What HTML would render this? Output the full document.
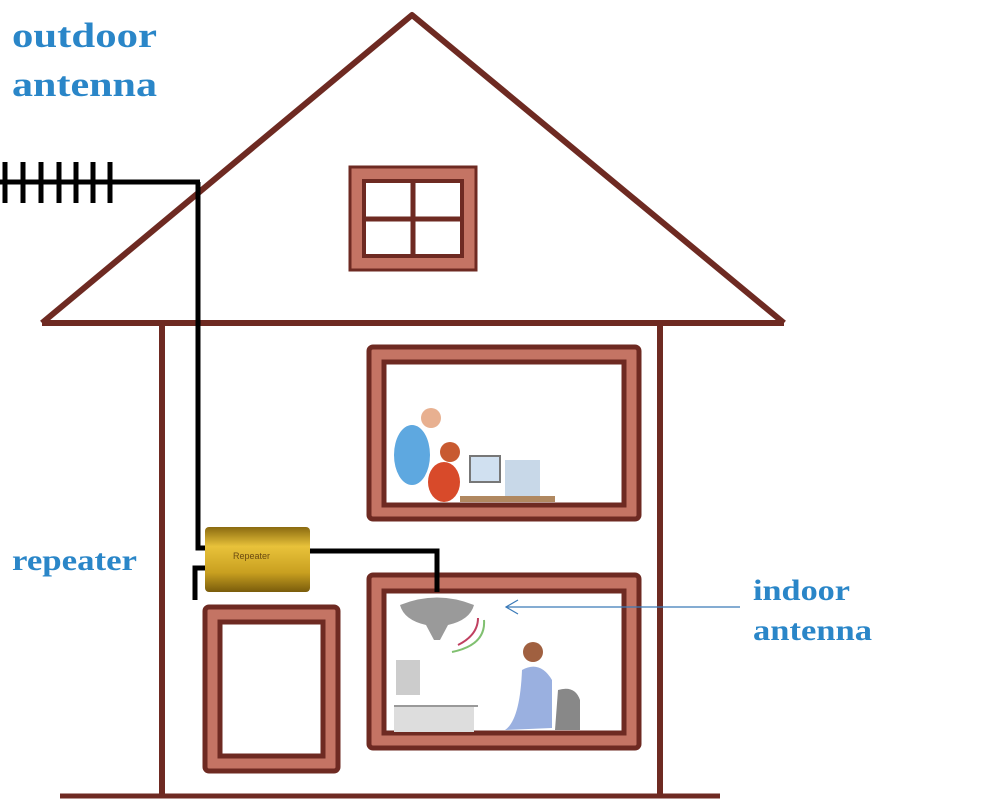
<!DOCTYPE html>
<html><head><style>body{margin:0;background:#fff}svg{display:block}text{font-family:"Liberation Serif",serif;font-weight:bold;fill:#2a86c8}</style></head>
<body>
<svg width="993" height="800" viewBox="0 0 993 800">
<defs>
<linearGradient id="g" x1="0" y1="0" x2="0" y2="1"><stop offset="0" stop-color="#8a6a10"/><stop offset="0.3" stop-color="#e8c23a"/><stop offset="0.7" stop-color="#c9a020"/><stop offset="1" stop-color="#7a5c0c"/></linearGradient>
</defs>
<g stroke="#6e2a22" stroke-width="6" fill="none" stroke-linejoin="round">
<polyline points="42,323 412,15 784,323"/>
<line x1="42" y1="323" x2="784" y2="323"/>
<line x1="162" y1="323" x2="162" y2="795"/>
<line x1="660" y1="323" x2="660" y2="795"/>
</g>
<line x1="60" y1="796" x2="720" y2="796" stroke="#6e2a22" stroke-width="5"/>
<rect x="350" y="167" width="126" height="103" fill="#c47464" stroke="#6e2a22" stroke-width="3"/>
<rect x="364" y="181" width="98" height="75" fill="#fff" stroke="#6e2a22" stroke-width="4"/>
<line x1="413" y1="181" x2="413" y2="256" stroke="#6e2a22" stroke-width="5"/>
<line x1="364" y1="219" x2="462" y2="219" stroke="#6e2a22" stroke-width="5"/>
<g fill="#c47464" stroke="#6e2a22" stroke-width="5">
<rect x="369" y="347" width="270" height="172" rx="4"/>
<rect x="369" y="575" width="270" height="173" rx="4"/>
<rect x="205" y="607" width="133" height="164" rx="4"/>
</g>
<g fill="#fff" stroke="#6e2a22" stroke-width="5">
<rect x="384" y="362" width="240" height="143"/>
<rect x="384" y="591" width="240" height="142"/>
<rect x="220" y="622" width="103" height="134"/>
</g>
<ellipse cx="412" cy="455" rx="18" ry="30" fill="#5ea8e0"/>
<circle cx="431" cy="418" r="10" fill="#e8b090"/>
<ellipse cx="444" cy="482" rx="16" ry="20" fill="#d84a2a"/>
<circle cx="450" cy="452" r="10" fill="#c85a30"/>
<rect x="470" y="456" width="30" height="26" fill="#d0e0f0" stroke="#777" stroke-width="2"/>
<rect x="505" y="460" width="35" height="36" fill="#c8d8e8"/>
<rect x="460" y="496" width="95" height="6" fill="#b08860"/>
<path d="M400,605 Q437,590 474,605 Q470,620 448,625 L440,640 L434,640 L426,625 Q404,620 400,605Z" fill="#9a9a9a"/>
<path d="M458,645 Q478,635 478,618" stroke="#c04060" stroke-width="2" fill="none"/>
<path d="M452,652 Q486,645 484,620" stroke="#80c070" stroke-width="2" fill="none"/>
<rect x="396" y="660" width="24" height="35" fill="#ccc"/>
<rect x="394" y="706" width="80" height="26" fill="#ddd"/>
<line x1="394" y1="706" x2="478" y2="706" stroke="#999" stroke-width="2"/>
<circle cx="533" cy="652" r="10" fill="#a06040"/>
<path d="M522,670 Q540,660 552,680 L552,728 L505,730 Q520,720 522,670Z" fill="#9ab0e0"/>
<path d="M558,690 Q575,685 580,700 L580,730 L555,730Z" fill="#888"/>
<g stroke="#000" fill="none" stroke-width="5">
<line x1="0" y1="182" x2="200" y2="182"/>
<polyline points="198,182 198,548 205,548"/>
<polyline points="310,551 437,551 437,592"/>
<polyline points="205,568 195,568 195,600"/>
</g>
<g stroke="#000" stroke-width="5">
<line x1="5" y1="162" x2="5" y2="203"/><line x1="23" y1="162" x2="23" y2="203"/><line x1="41" y1="162" x2="41" y2="203"/><line x1="59" y1="162" x2="59" y2="203"/><line x1="76" y1="162" x2="76" y2="203"/><line x1="93" y1="162" x2="93" y2="203"/><line x1="110" y1="162" x2="110" y2="203"/>
</g>
<rect x="205" y="527" width="105" height="65" rx="4" fill="url(#g)"/>
<text x="233" y="559" style="font-family:'Liberation Sans',sans-serif;font-weight:normal;fill:#6a4a10;font-size:9px">Repeater</text>
<line x1="740" y1="607" x2="506" y2="607" stroke="#3a7ab8" stroke-width="1.2"/>
<polyline points="518,600 506,607 518,614" stroke="#3a7ab8" stroke-width="1.2" fill="none"/>
<text x="12" y="47" font-size="35" textLength="145" lengthAdjust="spacingAndGlyphs">outdoor</text>
<text x="12" y="96" font-size="35" textLength="145" lengthAdjust="spacingAndGlyphs">antenna</text>
<text x="12" y="570" font-size="30" textLength="125" lengthAdjust="spacingAndGlyphs">repeater</text>
<text x="753" y="600" font-size="30" textLength="97" lengthAdjust="spacingAndGlyphs">indoor</text>
<text x="753" y="640" font-size="30" textLength="119" lengthAdjust="spacingAndGlyphs">antenna</text>
</svg>
</body></html>
